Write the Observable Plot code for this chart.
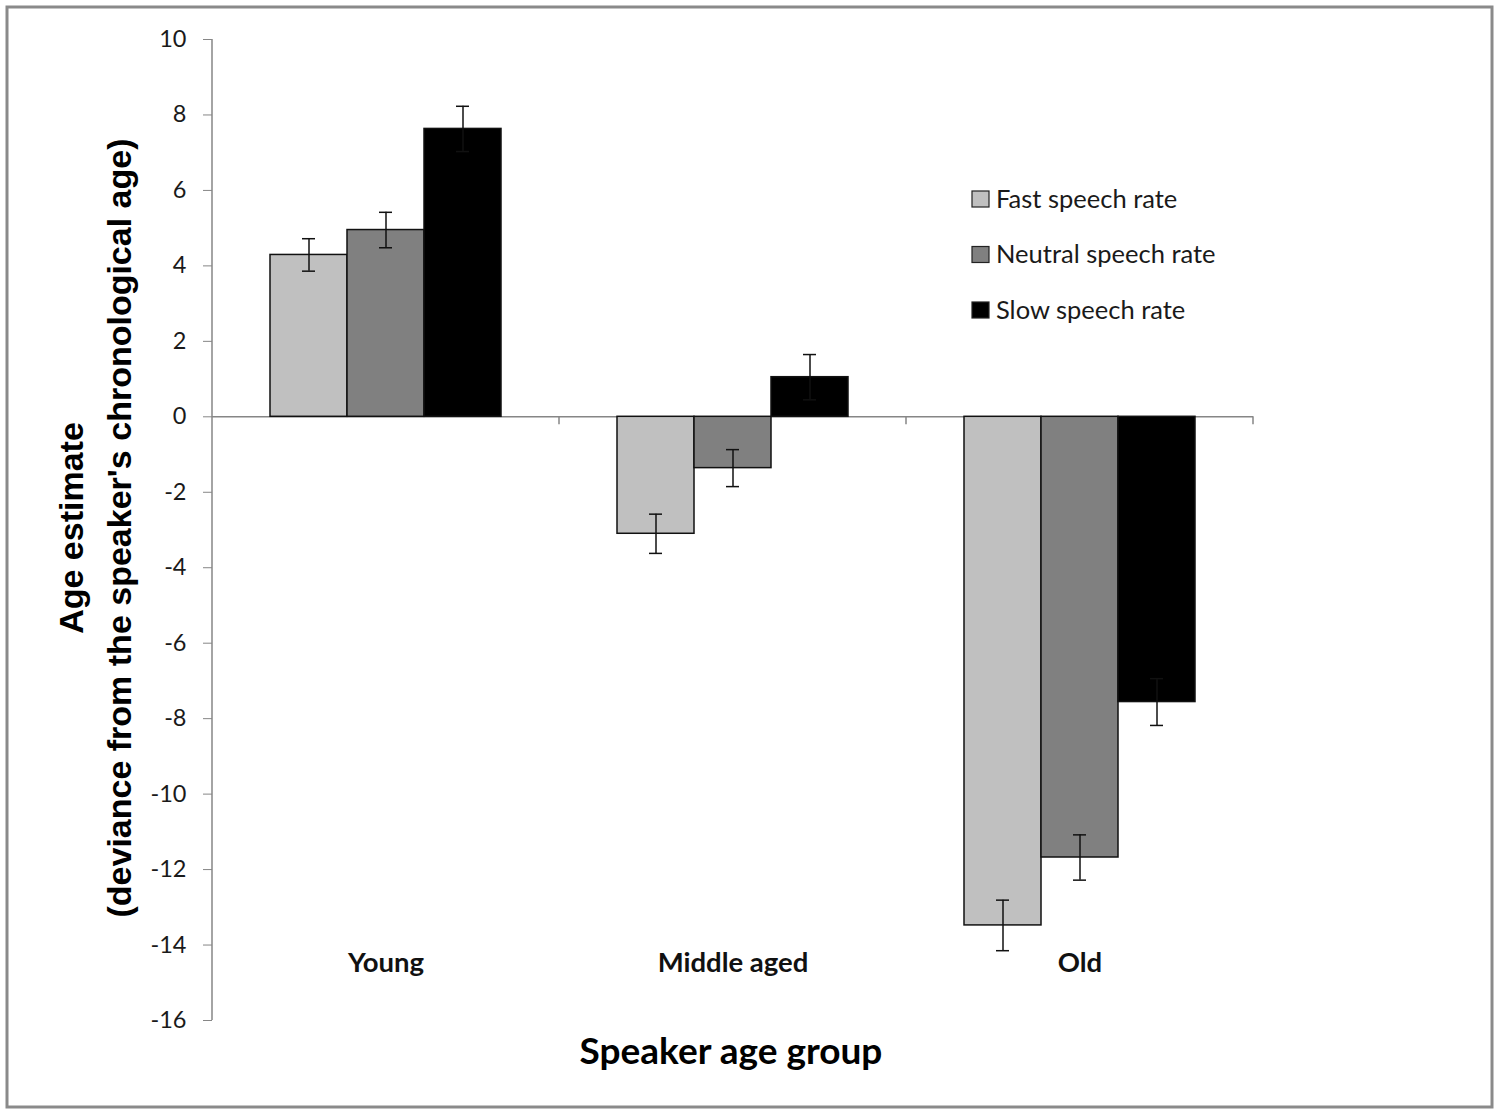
<!DOCTYPE html>
<html>
<head>
<meta charset="utf-8">
<script src="https://cdn.jsdelivr.net/npm/d3@7"></script>
<script src="https://cdn.jsdelivr.net/npm/@observablehq/plot@0.6"></script>
<style>
  html, body { margin: 0; padding: 0; background: white; }
  svg { display: block; }
</style>
</head>
<body>
<div id="chart"></div>
<script>
const categories = ["Young", "Middle aged", "Old"];
const series = ["Fast speech rate", "Neutral speech rate", "Slow speech rate"];
const colors = ["#c0c0c0", "#808080", "#000000"];
const fastMeans = [4.29, -3.10, -13.48];
const neutralMeans = [4.95, -1.36, -11.68];
const slowMeans = [7.63, 1.05, -7.56];
const fastErr = [0.43, 0.52, 0.67];
const neutralErr = [0.47, 0.49, 0.60];
const slowErr = [0.60, 0.60, 0.62];
const yTicks = [-16, -14, -12, -10, -8, -6, -4, -2, 0, 2, 4, 6, 8, 10];
const yTitle = ["Age estimate", "(deviance from the speaker's chronological age)"];
const xTitle = "Speaker age group";

const meansBySeries = [fastMeans, neutralMeans, slowMeans];
const errBySeries = [fastErr, neutralErr, slowErr];
const rows = [];
categories.forEach((c, i) => {
  series.forEach((s, j) => {
    rows.push({group: c, series: s, mean: meansBySeries[j][i], err: errBySeries[j][i]});
  });
});

const W = 1500, H = 1114;
const plot = Plot.plot({
  width: W,
  height: H,
  marginTop: 39,
  marginBottom: 94,
  marginLeft: 211,
  marginRight: 247,
  style: {fontFamily: "Lato, sans-serif", background: "white", color: "#1a1a1a", overflow: "visible"},
  fx: {domain: categories, padding: 0},
  x: {domain: series, paddingInner: 0, paddingOuter: 0.75, axis: null},
  y: {domain: [-16, 10]},
  color: {domain: series, range: colors},
  marks: [
    Plot.ruleY([0], {stroke: "#868686", strokeWidth: 1.5}),
    Plot.barY(rows, {fx: "group", x: "series", y: "mean", fill: "series", stroke: "#111", strokeWidth: 1.5}),
    Plot.ruleX(rows, {fx: "group", x: "series", y1: d => d.mean - d.err, y2: d => d.mean + d.err, stroke: "#111", strokeWidth: 1.5}),
    Plot.tickY(rows, {fx: "group", x: "series", y: d => d.mean - d.err, stroke: "#111", strokeWidth: 1.5, insetLeft: 32, insetRight: 32}),
    Plot.tickY(rows, {fx: "group", x: "series", y: d => d.mean + d.err, stroke: "#111", strokeWidth: 1.5, insetLeft: 32, insetRight: 32}),
    Plot.axisY({ticks: yTicks, tickSize: 9, tickPadding: 17, fontSize: 23.5, tickFormat: d => String(d), stroke: "#868686", label: null}),
    Plot.axisFx({anchor: "bottom", tickSize: 0, dy: -77, fontSize: 27.5, fontWeight: "bold", fill: "#111", label: null})
  ]
});

document.getElementById("chart").appendChild(plot);

const svg = d3.select(plot);
const ys = plot.scale("y");
const fxs = plot.scale("fx");
const yPix = v => ys.apply(v);
const left = fxs.apply(categories[0]);
const bw = fxs.bandwidth;

// y axis line
svg.append("line")
  .attr("x1", left).attr("x2", left)
  .attr("y1", yPix(yTicks[yTicks.length - 1])).attr("y2", yPix(yTicks[0]))
  .attr("stroke", "#868686").attr("stroke-width", 1.5);

// category boundary ticks on zero line
categories.forEach(c => {
  const x = fxs.apply(c) + bw;
  svg.append("line")
    .attr("x1", x).attr("x2", x)
    .attr("y1", yPix(0)).attr("y2", yPix(0) + 8)
    .attr("stroke", "#868686").attr("stroke-width", 1.5);
});

// legend
const lg = svg.append("g").attr("font-family", "Lato, sans-serif").attr("font-size", 25.5)
  .attr("fill", "#1a1a1a").attr("text-anchor", "start");
series.forEach((s, i) => {
  const cy = 199 + i * 55.5;
  lg.append("rect").attr("x", 972).attr("y", cy - 8).attr("width", 17).attr("height", 16)
    .attr("fill", colors[i]).attr("stroke", "#222").attr("stroke-width", 1.2);
  lg.append("text").attr("x", 996).attr("y", cy).attr("dy", "0.35em").text(s);
});

// y title
const yt = svg.append("g").attr("font-family", "'Liberation Sans', Arial, sans-serif").attr("font-weight", "bold")
  .attr("font-size", 34).attr("fill", "#000").attr("text-anchor", "middle");
yt.append("text").attr("transform", `translate(83,528) rotate(-90)`).text(yTitle[0]);
yt.append("text").attr("transform", `translate(131,528) rotate(-90)`).text(yTitle[1]);

// x title
svg.append("text").attr("x", 731).attr("y", 1064).attr("text-anchor", "middle")
  .attr("font-family", "Lato, sans-serif").attr("font-weight", "bold").attr("font-size", 37)
  .attr("fill", "#000").text(xTitle);

// border
svg.append("rect").attr("x", 7).attr("y", 7).attr("width", 1485).attr("height", 1100)
  .attr("fill", "none").attr("stroke", "#8a8a8a").attr("stroke-width", 3);
</script>
</body>
</html>
